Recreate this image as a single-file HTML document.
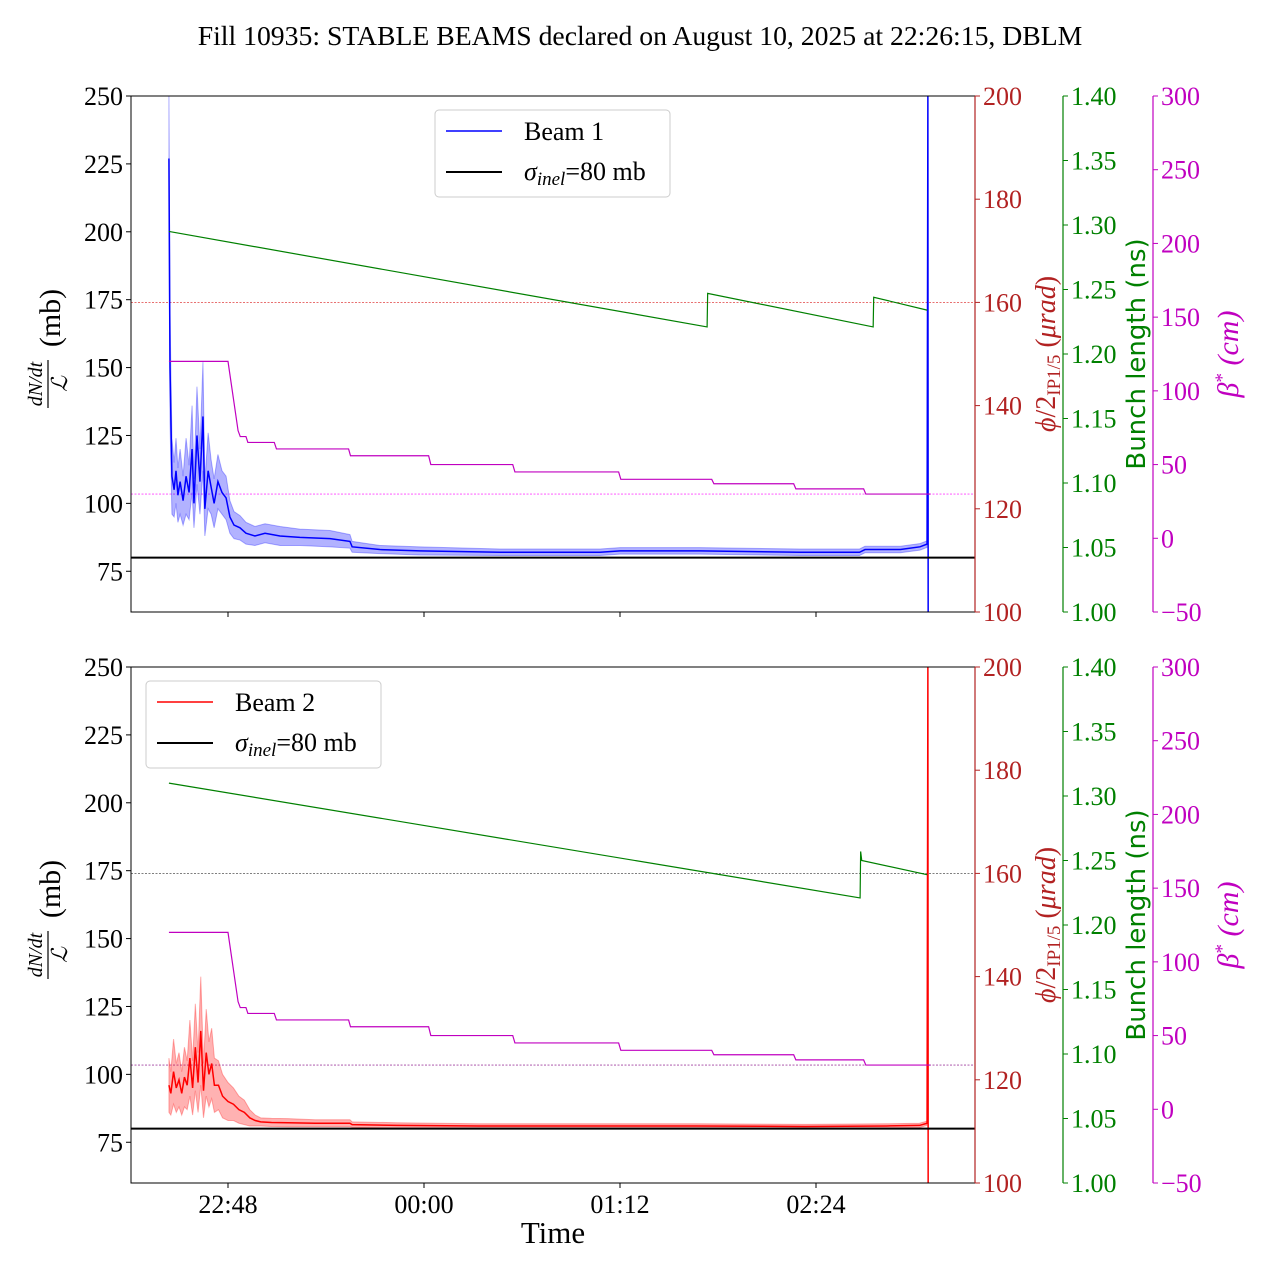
<!DOCTYPE html>
<html><head><meta charset="utf-8"><style>
body{margin:0;background:#fff}
svg{font-family:"Liberation Serif",serif}
</style></head><body>
<svg id="c" width="1280" height="1280" xmlns="http://www.w3.org/2000/svg">
<text x="640" y="45" font-size="27.7" text-anchor="middle">Fill 10935: STABLE BEAMS declared on August 10, 2025 at 22:26:15, DBLM</text>
<text x="553" y="1243" font-size="31" text-anchor="middle">Time</text>
</svg>
<script>
// time in minutes after 22:00
const xTickVals=[48,120,192,264];
const xTickLabels=["22:48","00:00","01:12","02:24"];
const leftTicks=[75,100,125,150,175,200,225,250];
const redTicks=[100,120,140,160,180,200];
const greenTicks=[1.00,1.05,1.10,1.15,1.20,1.25,1.30,1.35,1.40];
const magTicks=[-50,0,50,100,150,200,250,300];
const b1Times=[26.3,26.7,27.4,28.2,28.9,29.6,30.4,31.5,32.6,33.7,34.8,35.5,36.6,37.7,38.8,39.5,40.7,41.8,42.9,44.3,45.8,47.3,48.7,50.2,52.4,54.6,57.9,61.6,67.1,74.4,85.5,92.8,93.6,103.8,118.5,147.9,184.7,192,221.4,258,280,282,295,302.2,304.8,305.1,305.2];
const b1Vals=[227,150,110,105,112,103,108,101,110,104,120,100,125,108,132,98,112,106,100,108,104,102,95,92,91,89,88,89,88,87.5,87,86,84,83,82.5,82,82,82.5,82.5,82,82,83,83,84,85,250,60];
const b1Err=[25,20,14,10,12,10,12,9,14,10,16,9,18,12,20,10,14,10,9,10,8,8,6,5,4.5,4,3.5,3.5,3.5,3,3,2.5,2,1.5,1.5,1.2,1.2,1.2,1.2,1.2,1.2,1.2,1.2,1.2,1.2,0,0];
const b2Times=[26.3,27,28,29,30,31,32,33,34,35,36,37,38,39,40,41,42,43,44.5,46,48,50,52,54,56,58,60,64,70,80,92.8,93.6,110,140,180,220,260,290,302,304.8,305.1,305.2];
const b2Vals=[96,93,101,95,98,93,99,96,106,95,110,97,116,94,108,100,104,96,96,92,90,89,87,86,84,83,82.5,82.3,82.2,82,82,81.5,81.2,81,81,81,80.8,81,81.2,82,250,60];
const b2Err=[10,8,12,9,10,8,11,9,14,10,16,11,20,10,16,12,13,10,9,8,7,6,5,4.5,3,2,1.5,1.5,1.5,1.3,1.3,1,1,0.8,0.8,0.8,0.8,0.8,0.8,0.8,0,0];
const b1BetaT=[26.3,48,51.7,52.5,54.6,55.3,65,65.8,92.3,93,121.7,122.5,152.6,153.4,191.5,192.3,225.7,226.5,255.8,256.6,281.5,282.3,306];
const b1BetaV=[120,120,73,69,69,65,65,60.6,60.6,56,56,50,50,45,45,40,40,37,37,33.5,33.5,30,30];
const b2BetaT=b1BetaT;
const b2BetaV=b1BetaV;
const b1BunchT=[26.3,224,224.2,285,285.2,304.8];
const b1BunchV=[1.295,1.221,1.247,1.221,1.244,1.234];
const b2BunchT=[26.3,280.2,280.4,280.8,304.8];
const b2BunchV=[1.31,1.221,1.257,1.250,1.239];
const crossingRef=160, betaRef=30, sigmaInel=80;

const NS="http://www.w3.org/2000/svg";
const svg=document.getElementById('c');
function mk(tag,attrs,parent){const e=document.createElementNS(NS,tag);for(const k in attrs)e.setAttribute(k,attrs[k]);(parent||svg).appendChild(e);return e;}
const X0=131,X1=975;
const xs=t=>228+(t-48)*196/72;
function panel(top,times,vals,errs,col,fill,betaT,betaV,bunchT,bunchV,label,legX,showX,refCol,name){
  const bot=top+516;
  const yL=v=>bot-(v-60)/190*516, yR=v=>bot-(v-100)/100*516, yG=v=>bot-(v-1)/0.4*516, yM=v=>bot-(v+50)/350*516;
  const g=mk('g',{});
  
  
  const cp='cp'+top;
  const cl=mk('clipPath',{id:cp},g);mk('rect',{x:X0,y:top,width:X1-X0,height:516},cl);
  const pg=mk('g',{'clip-path':'url(#'+cp+')'},g);
  let e=mk('line',{x1:X0,x2:X1,y1:yR(crossingRef),y2:yR(crossingRef),stroke:refCol[0],'stroke-width':0.8,'stroke-dasharray':'2,1.5'},pg);
  
  e=mk('line',{x1:X0,x2:X1,y1:yM(betaRef),y2:yM(betaRef),stroke:refCol[1],'stroke-width':0.8,'stroke-dasharray':'2,1.5'},pg);
  
  let up=times.map((t,i)=>xs(t)+','+yL(vals[i]+errs[i])), lo=times.map((t,i)=>xs(t)+','+yL(vals[i]-errs[i])).reverse();
  e=mk('polygon',{points:up.concat(lo).join(' '),fill:fill,stroke:fill,'stroke-width':1},pg);
  
  e=mk('polyline',{points:times.map((t,i)=>xs(t)+','+yL(vals[i])).join(' '),fill:'none',stroke:col,'stroke-width':1.5},pg);
  
  e=mk('polyline',{points:bunchT.map((t,i)=>xs(t)+','+yG(bunchV[i])).join(' '),fill:'none',stroke:'#008000','stroke-width':1.2},pg);
  
  e=mk('polyline',{points:betaT.map((t,i)=>xs(t)+','+yM(betaV[i])).join(' '),fill:'none',stroke:'#c000c0','stroke-width':1.2},pg);
  
  e=mk('line',{x1:X0,x2:X1,y1:yL(sigmaInel),y2:yL(sigmaInel),stroke:'#000','stroke-width':2},pg);
  
  mk('rect',{x:X0,y:top,width:X1-X0,height:516,fill:'none',stroke:'#000','stroke-width':1},g);
  mk('line',{x1:X1,x2:X1,y1:top,y2:bot,stroke:'#b22222','stroke-width':1.2},g);
  mk('line',{x1:1063,x2:1063,y1:top,y2:bot,stroke:'#008000','stroke-width':1.2},g);
  mk('line',{x1:1153,x2:1153,y1:top,y2:bot,stroke:'#c000c0','stroke-width':1.2},g);
  leftTicks.forEach(v=>{mk('line',{x1:X0-5,x2:X0,y1:yL(v),y2:yL(v),stroke:'#000'},g);
    const t=mk('text',{x:X0-8,y:yL(v)+9,'font-size':26,'text-anchor':'end'},g);t.textContent=v;
    });
  const axes=[[redTicks,yR,X1,'#b22222',v=>v],[greenTicks,yG,1063,'#008000',v=>v.toFixed(2)],[magTicks,yM,1153,'#c000c0',v=>v<0?'\u2212'+(-v):v]];
  axes.forEach(([tk,f,x,c,fmt])=>tk.forEach(v=>{mk('line',{x1:x,x2:x+5,y1:f(v),y2:f(v),stroke:c},g);
    const t=mk('text',{x:x+8,y:f(v)+9,'font-size':26,fill:c},g);t.textContent=fmt(v);
    }));
  xTickVals.forEach((v,i)=>{mk('line',{x1:xs(v),x2:xs(v),y1:bot,y2:bot+5,stroke:'#000'},g);
    if(showX){const t=mk('text',{x:xs(v),y:bot+30,'font-size':26,'text-anchor':'middle'},g);t.textContent=xTickLabels[i];
    }});
  const cy=top+258;
  const ll=mk('g',{transform:`translate(50,${cy}) rotate(-90)`},g);
  
  let t=mk('text',{x:-30,y:-8,'font-size':20,'font-style':'italic','text-anchor':'middle'},ll);t.textContent='dN/dt';
  mk('line',{x1:-54,x2:-6,y1:-2,y2:-2,stroke:'#000','stroke-width':1.2},ll);
  t=mk('text',{x:-30,y:17,'font-size':22,'font-style':'italic','text-anchor':'middle'},ll);t.textContent='\u2112';
  t=mk('text',{x:36,y:10,'font-size':30,'text-anchor':'middle'},ll);t.textContent='(mb)';
  const rl=mk('text',{transform:`translate(1055,${cy}) rotate(-90)`,'font-size':28,fill:'#b22222','text-anchor':'middle'},g);
  
  rl.innerHTML='<tspan font-style="italic">\u03d5</tspan>/2<tspan font-size="19" dy="5">IP1/5</tspan><tspan dy="-5"> (</tspan><tspan font-style="italic">\u03bcrad</tspan>)';
  const gl=mk('text',{transform:`translate(1145,${cy}) rotate(-90)`,'font-size':26,fill:'#008000','text-anchor':'middle','font-family':'DejaVu Sans, sans-serif'},g);
  gl.textContent='Bunch length (ns)';
  const ml=mk('text',{transform:`translate(1238,${cy}) rotate(-90)`,'font-size':30,fill:'#c000c0','text-anchor':'middle'},g);
  
  ml.innerHTML='<tspan font-style="italic">\u03b2</tspan><tspan font-size="19" dy="-10">*</tspan><tspan dy="10" font-style="italic"> (cm)</tspan>';
  const lg=mk('g',{},g);
  mk('rect',{x:legX,y:top+14,width:235,height:87,rx:4,fill:'#fff','fill-opacity':0.85,stroke:'#ccc'},lg);
  mk('line',{x1:legX+11,x2:legX+67,y1:top+35,y2:top+35,stroke:col,'stroke-width':1.5},lg);
  t=mk('text',{x:legX+89,y:top+44,'font-size':26},lg);t.textContent=label;
  mk('line',{x1:legX+11,x2:legX+67,y1:top+76,y2:top+76,stroke:'#000','stroke-width':2},lg);
  t=mk('text',{x:legX+89,y:top+84,'font-size':26},lg);
  t.innerHTML='<tspan font-style="italic">\u03c3</tspan><tspan font-size="19" font-style="italic" dy="5">inel</tspan><tspan dy="-5">=80 mb</tspan>';
}
panel(96,b1Times,b1Vals,b1Err,'#0000ff','rgba(0,0,255,0.3)',b1BetaT,b1BetaV,b1BunchT,b1BunchV,'Beam 1',435,false,['#e04040','#ff40ff'],'beam1-panel');
panel(667,b2Times,b2Vals,b2Err,'#ff0000','rgba(255,0,0,0.3)',b2BetaT,b2BetaV,b2BunchT,b2BunchV,'Beam 2',146,true,['#555','#a040a0'],'beam2-panel');
</script>
</body></html>
